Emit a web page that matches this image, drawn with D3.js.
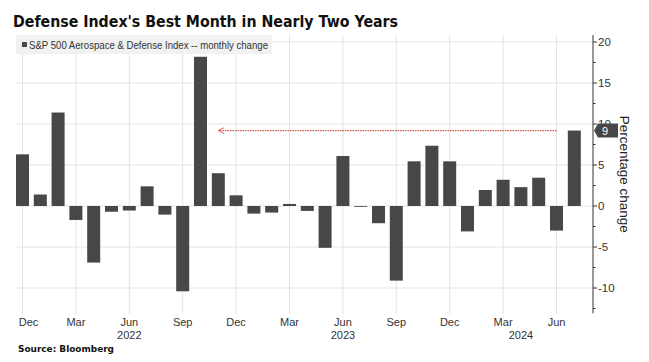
<!DOCTYPE html>
<html>
<head>
<meta charset="utf-8">
<script src="https://cdn.jsdelivr.net/npm/d3@7"></script>
<style>
  body { margin: 0; background: #fff; }
  svg { display: block; font-family: "Liberation Sans Narrow", "Liberation Sans", Arial, sans-serif; }
</style>
</head>
<body>
<svg id="chart"></svg>
<script>
// monthly data, Dec 2021 .. Jul 2024
const months = [
  "2021-12", "2022-01", "2022-02", "2022-03", "2022-04", "2022-05", "2022-06", "2022-07",
  "2022-08", "2022-09", "2022-10", "2022-11", "2022-12", "2023-01", "2023-02", "2023-03",
  "2023-04", "2023-05", "2023-06", "2023-07", "2023-08", "2023-09", "2023-10", "2023-11",
  "2023-12", "2024-01", "2024-02", "2024-03", "2024-04", "2024-05", "2024-06", "2024-07"
];
const changes = [
  6.3, 1.4, 11.4, -1.7, -6.9, -0.7, -0.55, 2.4,
  -1.05, -10.4, 18.2, 4.0, 1.3, -0.93, -0.8, 0.25,
  -0.6, -5.1, 6.1, -0.1, -2.1, -9.1, 5.45, 7.35,
  5.45, -3.1, 1.95, 3.2, 2.3, 3.45, -3.0, 9.2
];
const monthTicks = ["2021-12", "2022-03", "2022-06", "2022-09", "2022-12", "2023-03",
  "2023-06", "2023-09", "2023-12", "2024-03", "2024-06"];
const monthNames = { "03": "Mar", "06": "Jun", "09": "Sep", "12": "Dec" };
const yearLabels = [["2022-06", "2022"], ["2023-06", "2023"], ["2024-04", "2024"]];
const yTicks = [-10, -5, 0, 5, 10, 15, 20];
const yMinorTicks = [-12.5, -7.5, -2.5, 2.5, 7.5, 12.5, 17.5];
const arrowFrom = "2024-06";
const arrowTo = "2022-11";

const width = 649, height = 362;
const svg = d3.select("#chart").attr("width", width).attr("height", height);

const x = d3.scaleBand().domain(months).range([13.6, 583.2]).paddingInner(0.27).paddingOuter(0.135);
const y = d3.scaleLinear().domain([-10, 20]).range([288, 42]);
const axisX = 593;
const yTop = y(20.85), yBottom = y(-13.1);
const cx = m => x(m) + x.bandwidth() / 2;

// horizontal grid
svg.append("g").selectAll("line").data(yTicks).join("line")
  .attr("x1", 16).attr("x2", axisX)
  .attr("y1", d => y(d)).attr("y2", d => y(d))
  .attr("stroke", "#e3e3e3").attr("stroke-width", 1);

// vertical grid
svg.append("g").selectAll("line").data(monthTicks).join("line")
  .attr("x1", d => cx(d)).attr("x2", d => cx(d))
  .attr("y1", yTop).attr("y2", 314)
  .attr("stroke", "#e3e3e3").attr("stroke-width", 1);

// legend
svg.append("rect").attr("x", 16).attr("y", 35).attr("width", 256).attr("height", 19).attr("fill", "#f1f1f1");
svg.append("rect").attr("x", 22).attr("y", 42).attr("width", 5).attr("height", 5).attr("fill", "#474747");
const legendText = svg.append("text").attr("x", 29).attr("y", 48.5)
  .attr("font-size", 10.5).attr("fill", "#333")
  .text("S&P 500 Aerospace & Defense Index -- monthly change");

// bars
svg.append("g").selectAll("rect").data(months).join("rect")
  .attr("x", d => x(d))
  .attr("width", x.bandwidth())
  .attr("y", (d, i) => y(Math.max(0, changes[i])))
  .attr("height", (d, i) => Math.max(0.8, Math.abs(y(changes[i]) - y(0))))
  .attr("fill", "#474747");

// red dotted arrow annotation
const last = changes[changes.length - 1];
svg.append("defs").append("marker")
  .attr("id", "head").attr("viewBox", "0 0 10 10").attr("refX", 9).attr("refY", 5)
  .attr("markerWidth", 7).attr("markerHeight", 7).attr("orient", "auto")
  .attr("markerUnits", "userSpaceOnUse")
  .append("path").attr("d", "M1,1 L9,5 L1,9").attr("fill", "none")
  .attr("stroke", "#d9534f").attr("stroke-width", 1.3);
svg.append("line")
  .attr("x1", cx(arrowFrom)).attr("x2", cx(arrowTo))
  .attr("y1", y(last)).attr("y2", y(last))
  .attr("stroke", "#d9534f").attr("stroke-width", 1.2).attr("stroke-dasharray", "1.5,1")
  .attr("marker-end", "url(#head)");

// right axis
const yAxis = svg.append("g").attr("transform", `translate(${axisX},0)`);
yAxis.append("line").attr("y1", yTop).attr("y2", yBottom).attr("stroke", "#333");
yAxis.selectAll(".major").data(yTicks).join("line").attr("class", "major")
  .attr("x1", 0).attr("x2", 4).attr("y1", d => y(d)).attr("y2", d => y(d)).attr("stroke", "#333");
yAxis.selectAll(".minor").data(yMinorTicks).join("line").attr("class", "minor")
  .attr("x1", 0).attr("x2", 2.5).attr("y1", d => y(d)).attr("y2", d => y(d)).attr("stroke", "#333");
yAxis.selectAll("text").data(yTicks).join("text")
  .attr("x", 5).attr("y", d => y(d)).attr("dy", "0.35em")
  .attr("font-family", "Liberation Sans, Arial, sans-serif")
  .attr("font-size", 11.5).attr("fill", "#333")
  .text(d => d);

// value tag
const tagY = y(last);
svg.append("path")
  .attr("d", `M${axisX + 1},${tagY} L${axisX + 5},${tagY - 7} L${axisX + 25},${tagY - 7} L${axisX + 25},${tagY + 7} L${axisX + 5},${tagY + 7} Z`)
  .attr("fill", "#474747");
svg.append("text").attr("x", axisX + 9).attr("y", tagY).attr("dy", "0.36em")
  .attr("font-family", "Liberation Sans, Arial, sans-serif")
  .attr("font-size", 11).attr("fill", "#fff").text(Math.round(last));

// axis title
svg.append("text")
  .attr("transform", `translate(${620},${(yTop + yBottom) / 2}) rotate(90)`)
  .attr("text-anchor", "middle")
  .attr("font-family", "Liberation Sans, Arial, sans-serif")
  .attr("font-size", 13.5).attr("fill", "#222")
  .text("Percentage change");

// x labels
svg.append("g").selectAll("text").data(monthTicks).join("text")
  .attr("x", (d, i) => i === 0 ? cx(d) + 6 : cx(d))
  .attr("y", 326)
  .attr("text-anchor", "middle")
  .attr("font-family", "Liberation Sans, Arial, sans-serif")
  .attr("font-size", 11).attr("fill", "#333")
  .text(d => monthNames[d.slice(5)]);
svg.append("g").selectAll("text").data(yearLabels).join("text")
  .attr("x", d => cx(d[0])).attr("y", 339)
  .attr("text-anchor", "middle")
  .attr("font-family", "Liberation Sans, Arial, sans-serif")
  .attr("font-size", 11).attr("fill", "#333")
  .text(d => d[1]);

// title + source
const title = svg.append("text").attr("x", 13).attr("y", 27)
  .attr("font-family", "DejaVu Sans, sans-serif")
  .attr("font-size", 16.5).attr("font-weight", "bold").attr("fill", "#111")
  .text("Defense Index's Best Month in Nearly Two Years");
const source = svg.append("text").attr("x", 18).attr("y", 352)
  .attr("font-family", "DejaVu Sans, sans-serif")
  .attr("font-size", 9.5).attr("font-weight", "bold").attr("fill", "#111")
  .text("Source: Bloomberg");

// squeeze text to the widths seen in the original
[[title, 385], [legendText, 239], [source, 96]].forEach(([t, w]) => {
  if (Math.abs(t.node().getComputedTextLength() - w) > 3) {
    t.attr("textLength", w).attr("lengthAdjust", "spacingAndGlyphs");
  }
});
</script>
</body>
</html>
